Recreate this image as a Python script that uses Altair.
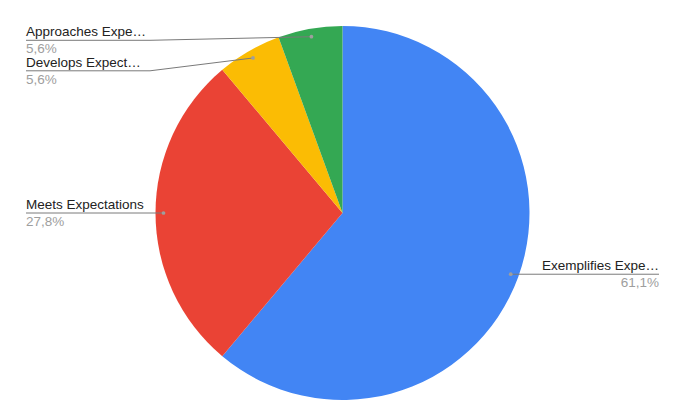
import math
import altair as alt
import pandas as pd

# ---- data ----
labels = ["Exemplifies Expe…", "Meets Expectations", "Develops Expect…", "Approaches Expe…"]
counts = [11, 5, 1, 1]
colors = ["#4285F4", "#EA4335", "#FBBC04", "#34A853"]

# ---- layout (pixels inside the chart) ----
W, H = 665, 403
CX, CY, R = 334.5, 205, 187
DOT_R = 179
LEFT_X, LEFT_BEND = 18, 142
RIGHT_X, RIGHT_BEND = 651, 527
TOP_MIN, GAP = 32.3, 30.5
FONT = "Liberation Sans"
FS = 13.5

total = sum(counts)
rows = []
start = 0.0
for i, (lab, c) in enumerate(zip(labels, counts)):
    frac = c / total
    mid = (start + frac / 2) * 2 * math.pi
    start += frac
    side = "right" if math.sin(mid) > 0 else "left"
    rows.append(dict(order=i, label=lab, count=c,
                     pct=f"{frac*100:.1f}".replace(".", ",") + "%",
                     dot_x=CX + DOT_R * math.sin(mid),
                     dot_y=CY - DOT_R * math.cos(mid),
                     side=side))

# resolve label vertical positions per side
for side in ("left", "right"):
    prev = -1e9
    for r in sorted([r for r in rows if r["side"] == side], key=lambda r: r["dot_y"]):
        ly = max(r["dot_y"], prev + GAP, TOP_MIN)
        r["ly"] = ly
        prev = ly
        r["lx"] = LEFT_X if side == "left" else RIGHT_X
        r["bx"] = LEFT_BEND if side == "left" else RIGHT_BEND

df = pd.DataFrame(rows)

xs = alt.Scale(domain=[0, W], range=[0, W], nice=False, zero=False)
ys = alt.Scale(domain=[0, H], range=[0, H], nice=False, zero=False)

base = alt.Chart(df)

pie = base.mark_arc(radius=R).encode(
    theta=alt.Theta("count:Q", stack=True),
    color=alt.Color("label:N", scale=alt.Scale(domain=labels, range=colors), legend=None),
    order=alt.Order("order:Q"),
    x=alt.value(CX),
    y=alt.value(CY),
)

seg1 = base.mark_rule(color="#7a7a7a", strokeWidth=1).encode(
    x=alt.X("dot_x:Q", scale=xs, axis=None),
    y=alt.Y("dot_y:Q", scale=ys, axis=None),
    x2="bx:Q",
    y2="ly:Q",
)
seg2 = base.mark_rule(color="#7a7a7a", strokeWidth=1).encode(
    x=alt.X("bx:Q", scale=xs, axis=None),
    y=alt.Y("ly:Q", scale=ys, axis=None),
    x2="lx:Q",
    y2="ly:Q",
)
dots = base.mark_circle(size=14, color="#9e9e9e", opacity=1).encode(
    x=alt.X("dot_x:Q", scale=xs, axis=None),
    y=alt.Y("dot_y:Q", scale=ys, axis=None),
)

def texts(side):
    sub = base.transform_filter(alt.datum.side == side)
    name = sub.mark_text(align=side, baseline="alphabetic", dy=-4, font=FONT,
                         fontSize=FS, color="#222222").encode(
        x=alt.X("lx:Q", scale=xs, axis=None),
        y=alt.Y("ly:Q", scale=ys, axis=None),
        text="label:N",
    )
    pct = sub.mark_text(align=side, baseline="alphabetic", dy=13, font=FONT,
                        fontSize=FS, color="#9e9e9e").encode(
        x=alt.X("lx:Q", scale=xs, axis=None),
        y=alt.Y("ly:Q", scale=ys, axis=None),
        text="pct:N",
    )
    return name + pct

chart = alt.layer(pie, seg1, seg2, dots, texts("left"), texts("right")).properties(
    width=W, height=H, autosize="none", padding=0, background="white"
).configure_view(stroke=None)

chart.save("out.html", embed_options={"renderer": "svg", "actions": False})
